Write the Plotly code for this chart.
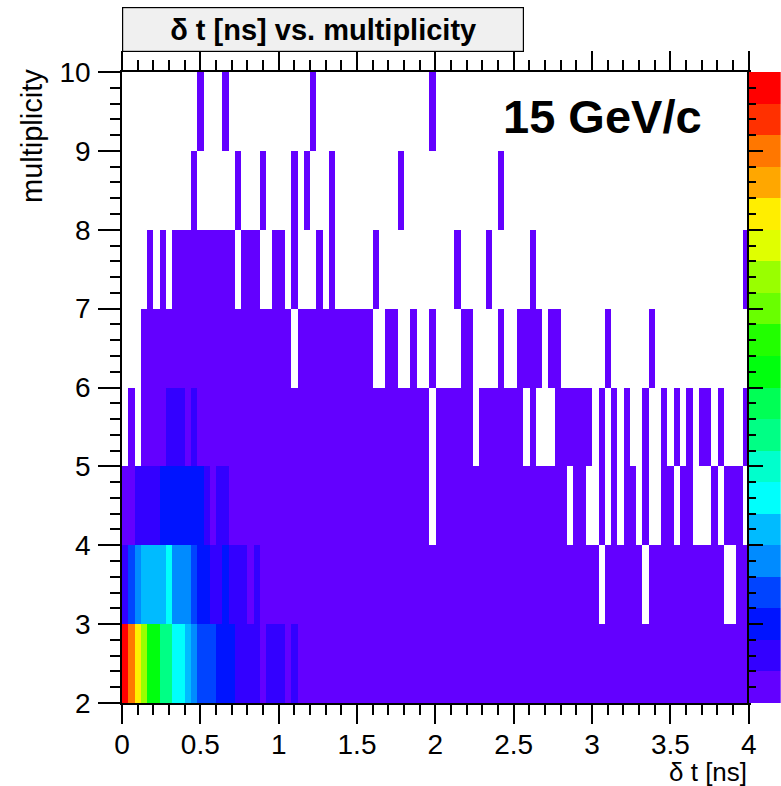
import colorsys
import plotly.graph_objects as go

# ---------------- data (bin contents) ----------------
DT_MIN, DT_MAX, N_DT = 0.0, 4.0, 100          # delta t axis [ns], 100 bins of 0.04 ns
MULT_MIN, MULT_MAX = 2, 10                     # multiplicity axis, bins of 1
Z_MAX = 200                                    # maximum bin content
N_CONTOURS = 20

x_ticks = [0, 0.5, 1, 1.5, 2, 2.5, 3, 3.5, 4]
y_ticks = [2, 3, 4, 5, 6, 7, 8, 9, 10]

mult2 = [200, 175, 155, 135, 105, 105, 85, 85, 65, 65,
         55, 45, 35, 35, 35, 25, 25, 25, 15, 15,
         15, 15, 6, 15, 15, 15, 6, 15, 6, 6,
         5, 5, 5, 5, 5, 5, 5, 5, 5, 5,
         5, 5, 5, 5, 5, 5, 5, 5, 5, 5,
         5, 5, 5, 5, 5, 5, 5, 5, 5, 5,
         4, 4, 4, 4, 4, 4, 4, 4, 4, 4,
         4, 4, 4, 4, 4, 4, 4, 4, 4, 4,
         4, 4, 4, 4, 4, 4, 4, 4, 4, 4,
         4, 4, 4, 4, 4, 4, 4, 4, 4, 4]
mult3 = [15, 35, 45, 55, 55, 55, 55, 65, 45, 45,
         45, 35, 25, 25, 15, 15, 25, 15, 15, 15,
         5, 12, 4, 4, 4, 4, 4, 4, 4, 4,
         4, 4, 4, 4, 4, 4, 4, 4, 4, 4,
         4, 4, 4, 4, 4, 4, 4, 4, 4, 4,
         3, 3, 3, 3, 3, 3, 3, 3, 3, 3,
         3, 3, 3, 3, 3, 3, 3, 3, 3, 3,
         3, 3, 3, 3, 3, 3, 0, 3, 3, 3,
         3, 3, 3, 0, 3, 3, 3, 3, 3, 3,
         3, 3, 3, 3, 3, 3, 0, 0, 3, 3]
mult4 = [5, 5, 15, 15, 15, 15, 25, 25, 25, 25,
         25, 25, 25, 12, 8, 13, 13, 4, 4, 4,
         4, 4, 4, 4, 4, 4, 4, 4, 4, 4,
         3, 3, 3, 3, 3, 3, 3, 3, 3, 3,
         3, 3, 3, 3, 3, 3, 3, 3, 3, 0,
         2, 2, 2, 2, 2, 2, 2, 2, 2, 2,
         2, 2, 2, 2, 2, 2, 2, 2, 2, 2,
         2, 0, 2, 2, 0, 0, 2, 0, 2, 0,
         2, 2, 0, 2, 0, 0, 2, 2, 0, 2,
         2, 0, 0, 0, 2, 0, 2, 2, 2, 0]
mult5 = [0, 3, 0, 3, 3, 3, 3, 12, 12, 12,
         3, 11, 3, 3, 3, 3, 3, 3, 3, 3,
         3, 3, 3, 3, 3, 3, 3, 3, 3, 3,
         2, 2, 2, 2, 2, 2, 2, 2, 2, 2,
         2, 2, 2, 2, 2, 2, 2, 2, 2, 0,
         2, 2, 2, 2, 2, 2, 0, 1, 1, 1,
         1, 1, 1, 1, 0, 1, 0, 0, 0, 1,
         1, 1, 1, 1, 1, 0, 1, 0, 1, 0,
         1, 0, 0, 1, 0, 0, 1, 0, 1, 0,
         1, 0, 1, 1, 0, 1, 0, 0, 0, 1]
mult6 = [0, 0, 0, 2, 2, 2, 2, 2, 2, 2,
         2, 2, 2, 2, 2, 2, 2, 2, 2, 2,
         2, 2, 2, 2, 2, 2, 2, 0, 2, 2,
         1, 1, 1, 1, 1, 1, 1, 1, 1, 1,
         0, 0, 1, 1, 0, 0, 1, 0, 0, 1,
         0, 0, 0, 0, 1, 1, 0, 0, 0, 0,
         1, 0, 0, 1, 1, 1, 1, 0, 1, 1,
         0, 0, 0, 0, 0, 0, 0, 1, 0, 0,
         0, 0, 0, 0, 1, 0, 0, 0, 0, 0,
         0, 0, 0, 0, 0, 0, 0, 0, 0, 0]
mult7 = [0, 0, 0, 0, 1, 0, 1, 0, 1, 1,
         1, 1, 1, 1, 1, 1, 1, 1, 0, 1,
         1, 1, 0, 0, 1, 1, 0, 1, 0, 0,
         0, 1, 0, 1, 0, 0, 0, 0, 0, 0,
         1, 0, 0, 0, 0, 0, 0, 0, 0, 0,
         0, 0, 0, 1, 0, 0, 0, 0, 1, 0,
         0, 0, 0, 0, 0, 1, 0, 0, 0, 0,
         0, 0, 0, 0, 0, 0, 0, 0, 0, 0,
         0, 0, 0, 0, 0, 0, 0, 0, 0, 0,
         0, 0, 0, 0, 0, 0, 0, 0, 0, 1]
mult8 = [0, 0, 0, 0, 0, 0, 0, 0, 0, 0,
         0, 1, 0, 0, 0, 0, 0, 0, 1, 0,
         0, 0, 1, 0, 0, 0, 0, 1, 0, 1,
         0, 0, 0, 1, 0, 0, 0, 0, 0, 0,
         0, 0, 0, 0, 1, 0, 0, 0, 0, 0,
         0, 0, 0, 0, 0, 0, 0, 0, 0, 0,
         1, 0, 0, 0, 0, 0, 0, 0, 0, 0,
         0, 0, 0, 0, 0, 0, 0, 0, 0, 0,
         0, 0, 0, 0, 0, 0, 0, 0, 0, 0,
         0, 0, 0, 0, 0, 0, 0, 0, 0, 0]
mult9 = [0, 0, 0, 0, 0, 0, 0, 0, 0, 0,
         0, 0, 1, 0, 0, 0, 1, 0, 0, 0,
         0, 0, 0, 0, 0, 0, 0, 0, 0, 0,
         1, 0, 0, 0, 0, 0, 0, 0, 0, 0,
         0, 0, 0, 0, 0, 0, 0, 0, 0, 1,
         0, 0, 0, 0, 0, 0, 0, 0, 0, 0,
         0, 0, 0, 0, 0, 0, 0, 0, 0, 0,
         0, 0, 0, 0, 0, 0, 0, 0, 0, 0,
         0, 0, 0, 0, 0, 0, 0, 0, 0, 0,
         0, 0, 0, 0, 0, 0, 0, 0, 0, 0]

rows = [mult2, mult3, mult4, mult5, mult6, mult7, mult8, mult9]
z = [[v if v > 0 else None for v in r] for r in rows]   # empty bins are not painted

# ---------------- ROOT "pretty palette" (violet -> red), 20 contours ----------------
def root_palette(n_levels, n_colors=50):
    cols = []
    for k in range(n_levels):
        idx = int((k + 0.99) * n_colors / n_levels)
        hue = 280.0 - (idx + 1) * (280.0 / n_colors)
        r, g, b = colorsys.hls_to_rgb(hue / 360.0, 0.5, 1.0)
        cols.append("rgb(%d,%d,%d)" % (round(r * 255), round(g * 255), round(b * 255)))
    return cols

pal = root_palette(N_CONTOURS)
colorscale = []
for k, c in enumerate(pal):
    colorscale.append([k / N_CONTOURS, c])
    colorscale.append([(k + 1) / N_CONTOURS, c])

level_mid = [(k + 0.5) * Z_MAX / N_CONTOURS for k in range(N_CONTOURS)]

FONT = "Liberation Sans, Arial, Helvetica, sans-serif"
bin_w = (DT_MAX - DT_MIN) / N_DT

fig = go.Figure()
fig.add_trace(go.Heatmap(
    z=z, x0=DT_MIN + bin_w / 2, dx=bin_w, y0=MULT_MIN + 0.5, dy=1,
    colorscale=colorscale, zmin=0, zmax=Z_MAX, showscale=False,
    hoverongaps=False, xaxis="x", yaxis="y"))
# palette (z axis) drawn as its own strip beside the frame
fig.add_trace(go.Heatmap(
    z=[[v] for v in level_mid], x=[0], y=level_mid,
    colorscale=colorscale, zmin=0, zmax=Z_MAX, showscale=False,
    hoverinfo="skip", xaxis="x2", yaxis="y2"))

W, H = 781, 786
L, R, T, B = 122, 0, 72, 83
frame_right = 748.7
xdom_end = (frame_right - L) / (W - L - R)
plot_h = H - T - B

fig.update_layout(
    template="none",
    width=W, height=H, autosize=False,
    margin=dict(l=L, r=R, t=T, b=B, pad=0, autoexpand=False),
    paper_bgcolor="white", plot_bgcolor="white",
    font=dict(family=FONT, size=28, color="black"),
    showlegend=False,
    xaxis=dict(domain=[0, xdom_end], range=[DT_MIN, DT_MAX], automargin=False,
               tickmode="array", tickvals=x_ticks,
               ticktext=[("%g" % v) for v in x_ticks],
               ticks="outside", ticklen=19, tickwidth=1.5, tickcolor="black",
               minor=dict(dtick=0.1, tick0=0, ticks="outside", ticklen=10,
                          tickwidth=1.5, tickcolor="black"),
               showline=True, linecolor="black", linewidth=1.5, mirror="ticks",
               showgrid=False, zeroline=False, anchor="y",
               ticklabelstandoff=-3, tickfont=dict(size=28)),
    yaxis=dict(range=[MULT_MIN, MULT_MAX], tickmode="array", tickvals=y_ticks,
               automargin=False,
               ticks="outside", ticklen=22, tickwidth=1.5, tickcolor="black",
               minor=dict(dtick=0.2, tick0=0, ticks="outside", ticklen=10,
                          tickwidth=1.5, tickcolor="black"),
               showline=True, linecolor="black", linewidth=1.5, mirror=True,
               showgrid=False, zeroline=False, anchor="x",
               ticklabelstandoff=2, tickfont=dict(size=28)),
    xaxis2=dict(domain=[xdom_end, 1], range=[-0.5, 0.5], visible=False,
                automargin=False, anchor="y2", fixedrange=True),
    yaxis2=dict(range=[0, Z_MAX], anchor="x2", side="left", automargin=False,
                ticks="inside", dtick=Z_MAX / 8, tick0=0, ticklen=15,
                tickwidth=1.5, tickcolor="black",
                minor=dict(dtick=Z_MAX / 40, ticks="inside", ticklen=8,
                           tickwidth=1.5, tickcolor="black"),
                showticklabels=False, showgrid=False, zeroline=False,
                showline=True, linecolor="black", linewidth=1.5),
    annotations=[
        dict(text="<b>δ t [ns] vs. multiplicity</b>", xref="paper", yref="paper",
             x=0, xanchor="left", y=1 + (T - 52) / plot_h, yanchor="bottom",
             width=400, height=43, showarrow=False, align="center", valign="middle",
             bgcolor="#f0f0f0", bordercolor="black", borderwidth=1.2, borderpad=0,
             font=dict(size=29, family=FONT)),
        dict(text="<b>15 GeV/c</b>", xref="x", yref="y", x=3.07, y=9.43,
             xanchor="center", yanchor="middle", showarrow=False,
             font=dict(size=47, family=FONT)),
        dict(text="δ t [ns]", xref="paper", yref="paper", x=xdom_end, xanchor="right",
             y=-(772 - (H - B)) / plot_h, yanchor="middle", showarrow=False,
             font=dict(size=26, family=FONT)),
        dict(text="multiplicity", xref="paper", yref="paper",
             x=(32 - L) / (W - L - R), xanchor="center",
             y=1 + (T - 67) / plot_h, yanchor="top", textangle=-90, showarrow=False,
             font=dict(size=29, family=FONT)),
    ],
)

fig.write_html("out.html",
               config={"displayModeBar": False, "responsive": False},
               post_script="document.body.style.margin='0';"
                           "document.body.style.padding='0';"
                           "document.body.style.overflow='hidden';")
